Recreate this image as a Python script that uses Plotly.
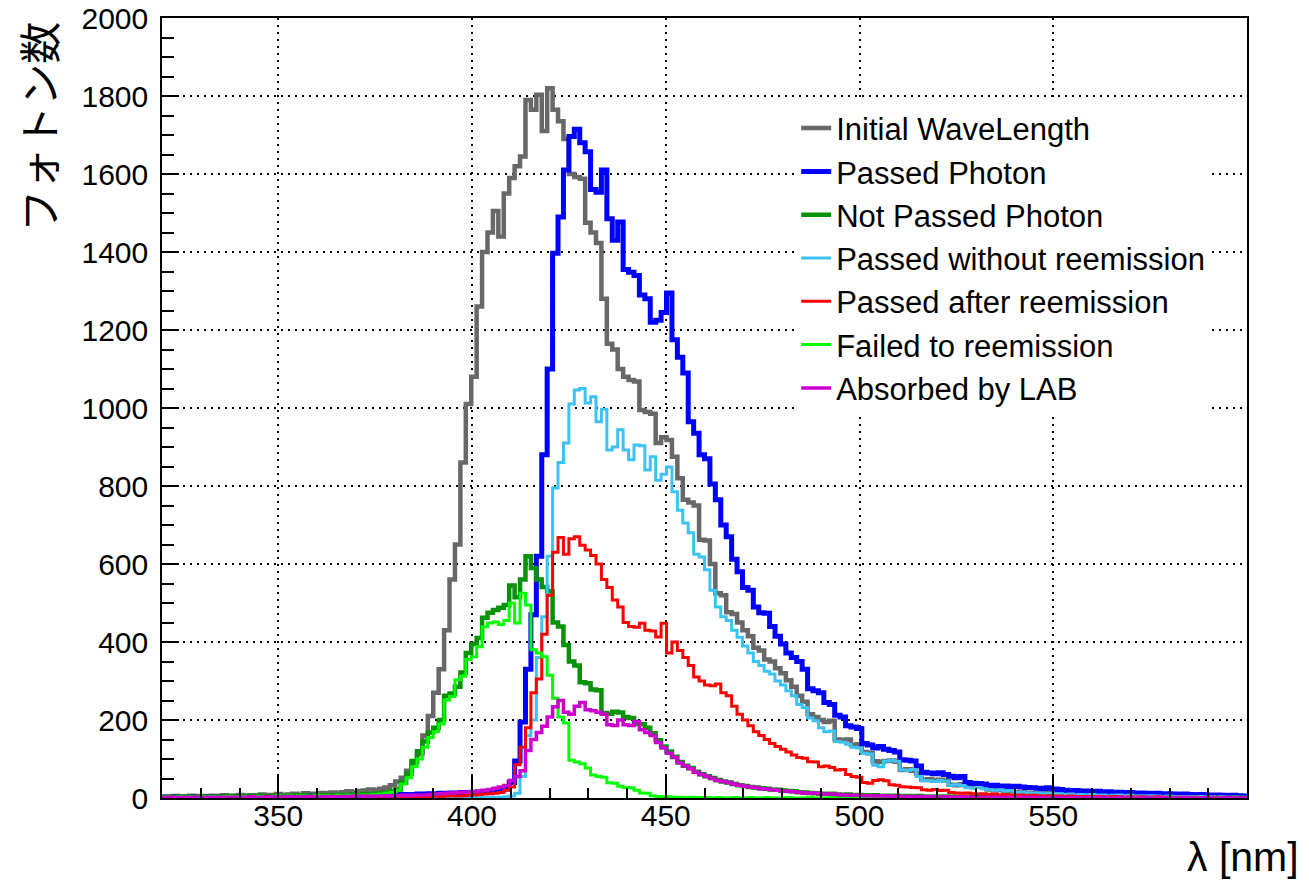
import numpy as np
import plotly.graph_objects as go

# Histogram binning (nm)
LAMBDA_MIN = 320.0
LAMBDA_MAX = 600.0
N_BINS = 200

x_tick_values = [350, 400, 450, 500, 550]

initial_wavelength = [
    4, 3, 5, 2, 4, 6, 3, 5, 4, 6,
    5, 7, 4, 6, 8, 5, 7, 6, 9, 7,
    8, 10, 7, 9, 11, 8, 12, 10, 11, 13,
    12, 14, 13, 15, 17, 14, 18, 19, 22, 20,
    24, 27, 33, 42, 52, 70, 90, 112, 160, 210,
    270, 330, 430, 560, 650, 860, 1010, 1080, 1260, 1400,
    1450, 1505, 1440, 1550, 1590, 1620, 1645, 1790, 1765, 1803,
    1710, 1820, 1765, 1735, 1690, 1600, 1592, 1588, 1475, 1450,
    1423, 1280, 1165, 1150, 1100, 1080, 1072, 1068, 995, 990,
    985, 910, 925, 918, 875, 820, 765, 758, 750, 662,
    660, 600, 525, 520, 476, 472, 450, 430, 415, 385,
    378, 355, 350, 333, 320, 302, 285, 262, 247, 215,
    208, 200, 195, 198, 150, 148, 150, 136, 138, 118,
    115, 94, 92, 95, 96, 93, 72, 74, 70, 62,
    46, 48, 45, 47, 44, 34, 33, 35, 32, 30,
    33, 28, 22, 20, 21, 18, 19, 14, 15, 13,
    12, 13, 11, 12, 10, 11, 9, 10, 8, 9,
    8, 9, 7, 8, 6, 7, 8, 6, 7, 5,
    6, 5, 7, 5, 4, 6, 5, 4, 5, 3,
    4, 5, 3, 4, 3, 4, 2, 3, 3, 2,
]

passed_photon = [
    2, 1, 3, 2, 2, 3, 1, 2, 3, 2,
    2, 3, 2, 3, 2, 3, 3, 2, 4, 3,
    3, 2, 4, 3, 4, 3, 4, 5, 3, 4,
    4, 5, 4, 5, 6, 5, 6, 5, 7, 6,
    7, 6, 8, 7, 9, 8, 9, 10, 9, 11,
    10, 12, 11, 13, 12, 14, 13, 15, 14, 16,
    16, 18, 20, 24, 40, 95, 195, 330, 470, 620,
    880, 1100, 1397, 1490, 1610, 1696, 1715, 1680, 1657, 1560,
    1553, 1610, 1485, 1430, 1477, 1355, 1348, 1340, 1290, 1280,
    1220, 1225, 1245, 1295, 1175, 1130, 1090, 965, 935, 880,
    870, 805, 765, 700, 670, 612, 580, 540, 533, 490,
    475, 474, 440, 415, 395, 372, 360, 350, 330, 280,
    275, 270, 245, 240, 212, 208, 185, 182, 178, 140,
    136, 128, 132, 125, 122, 118, 98, 97, 95, 82,
    66, 64, 62, 65, 60, 56, 52, 55, 40, 38,
    37, 36, 32, 33, 30, 31, 29, 30, 28, 27,
    26, 25, 24, 26, 23, 22, 20, 18, 19, 17,
    18, 16, 17, 15, 16, 14, 15, 13, 14, 12,
    13, 12, 11, 12, 10, 11, 10, 9, 10, 9,
    8, 9, 8, 7, 8, 7, 6, 7, 6, 5,
]

not_passed_photon = [
    2, 3, 2, 3, 4, 2, 3, 4, 3, 4,
    3, 4, 5, 3, 4, 5, 4, 6, 5, 4,
    5, 6, 4, 6, 5, 7, 6, 5, 7, 6,
    7, 6, 8, 7, 8, 9, 8, 10, 9, 11,
    12, 14, 18, 22, 40, 62, 95, 120, 145, 168,
    180, 200, 262, 268, 285, 322, 372, 395, 410, 462,
    475, 482, 488, 495, 545, 515, 560, 620, 590, 560,
    541, 530, 450, 440, 392, 350, 340, 297, 294, 278,
    276, 218, 216, 221, 219, 208, 205, 190, 189, 180,
    166, 148, 132, 119, 106, 92, 83, 77, 67, 61,
    56, 51, 46, 42, 40, 36, 33, 31, 28, 27,
    25, 24, 22, 21, 19, 18, 17, 15, 14, 13,
    12, 11, 10, 11, 9, 8, 9, 7, 8, 7,
    6, 7, 5, 6, 5, 6, 4, 5, 4, 5,
    4, 3, 4, 3, 4, 3, 2, 3, 3, 2,
    2, 3, 2, 2, 1, 2, 2, 1, 2, 1,
    1, 2, 1, 1, 2, 1, 1, 1, 0, 1,
    1, 1, 0, 1, 1, 0, 1, 1, 0, 1,
    0, 1, 1, 0, 1, 0, 1, 0, 0, 1,
    0, 1, 0, 0, 1, 0, 0, 1, 0, 0,
]

passed_without_reemission = [
    0, 1, 0, 0, 1, 0, 0, 1, 0, 0,
    1, 0, 0, 1, 0, 1, 0, 0, 1, 0,
    0, 1, 0, 1, 0, 0, 1, 0, 1, 0,
    1, 0, 1, 0, 1, 1, 0, 1, 0, 1,
    1, 1, 0, 1, 1, 1, 0, 1, 1, 1,
    1, 1, 1, 0, 1, 1, 1, 1, 1, 1,
    1, 2, 2, 3, 5, 12, 55, 160, 200, 360,
    465, 620, 795, 860, 910, 1010, 1046, 1050, 1013, 1029,
    965, 997, 892, 900, 944, 892, 867, 905, 903, 841,
    875, 815, 830, 849, 785, 738, 705, 680, 625, 618,
    585, 533, 490, 465, 455, 430, 412, 390, 372, 350,
    340, 325, 318, 300, 290, 275, 262, 240, 232, 205,
    198, 180, 170, 172, 145, 143, 138, 130, 128, 115,
    113, 84, 80, 95, 97, 94, 72, 71, 73, 55,
    45, 44, 42, 45, 43, 33, 34, 32, 26, 25,
    27, 24, 21, 20, 21, 18, 19, 14, 15, 13,
    12, 13, 11, 12, 10, 11, 9, 10, 8, 9,
    8, 9, 7, 8, 6, 7, 8, 6, 7, 5,
    6, 5, 6, 5, 4, 5, 4, 4, 4, 3,
    3, 4, 3, 3, 2, 3, 2, 2, 2, 2,
]

passed_after_reemission = [
    0, 1, 0, 0, 1, 0, 1, 0, 0, 1,
    0, 1, 1, 0, 1, 0, 1, 1, 0, 1,
    1, 0, 1, 1, 0, 1, 1, 0, 1, 1,
    1, 1, 2, 1, 1, 2, 1, 2, 2, 1,
    2, 2, 3, 2, 3, 3, 4, 3, 4, 4,
    5, 4, 5, 6, 5, 6, 7, 8, 9, 10,
    11, 12, 14, 20, 28, 85, 130, 180, 270, 305,
    420, 520, 630, 668, 625, 665, 670, 648, 636, 622,
    600, 560, 540, 508, 490, 450, 440, 438, 448, 430,
    428, 413, 448, 372, 400, 378, 360, 340, 310, 300,
    290, 288, 292, 270, 262, 235, 215, 200, 185, 170,
    160, 150, 140, 132, 125, 118, 110, 104, 102, 93,
    92, 80, 82, 78, 72, 73, 60, 55, 53, 40,
    38, 45, 47, 44, 34, 33, 29, 28, 27, 26,
    21, 20, 22, 19, 20, 14, 13, 12, 13, 11,
    10, 11, 9, 10, 8, 9, 8, 7, 8, 6,
    7, 6, 5, 6, 5, 5, 4, 5, 4, 4,
    4, 3, 4, 3, 3, 4, 3, 2, 3, 2,
    3, 2, 2, 3, 2, 2, 1, 2, 2, 1,
    2, 1, 1, 2, 1, 1, 1, 0, 1, 1,
]

failed_to_reemission = [
    2, 2, 1, 3, 3, 2, 2, 3, 2, 3,
    2, 3, 4, 2, 3, 4, 3, 4, 4, 3,
    4, 5, 3, 5, 4, 5, 5, 4, 6, 5,
    6, 5, 7, 6, 7, 7, 7, 8, 8, 9,
    10, 12, 15, 20, 36, 52, 80, 100, 130, 155,
    170, 190, 251, 260, 303, 312, 355, 362, 388, 439,
    449, 451, 445, 455, 500, 449, 525, 495, 380, 372,
    362, 315, 256, 208, 192, 97, 92, 88, 77, 59,
    55, 53, 39, 38, 30, 27, 26, 20, 13, 12,
    6, 4, 3, 3, 2, 2, 1, 2, 1, 1,
    1, 0, 1, 0, 0, 1, 0, 0, 1, 0,
    0, 1, 0, 0, 0, 1, 0, 0, 0, 1,
    0, 0, 0, 1, 0, 0, 0, 0, 1, 0,
    0, 0, 1, 0, 0, 0, 0, 1, 0, 0,
    0, 0, 0, 0, 1, 0, 0, 0, 0, 0,
    0, 1, 0, 0, 0, 0, 0, 0, 0, 0,
    0, 0, 0, 0, 0, 1, 0, 0, 0, 0,
    0, 0, 0, 0, 0, 0, 0, 0, 0, 0,
    0, 0, 0, 0, 0, 0, 0, 0, 0, 0,
    0, 0, 0, 0, 0, 0, 0, 0, 0, 0,
]

absorbed_by_lab = [
    1, 2, 1, 1, 2, 1, 2, 1, 2, 2,
    1, 2, 2, 1, 2, 2, 3, 2, 2, 3,
    2, 3, 2, 3, 3, 2, 3, 4, 3, 3,
    3, 4, 3, 4, 4, 5, 4, 5, 4, 5,
    5, 6, 5, 6, 7, 6, 7, 8, 8, 9,
    10, 11, 12, 13, 14, 15, 15, 16, 18, 20,
    22, 25, 28, 32, 45, 55, 70, 122, 150, 168,
    184, 208, 234, 250, 220, 215, 235, 245, 226, 224,
    220, 215, 188, 186, 200, 188, 186, 196, 175, 168,
    160, 142, 128, 115, 104, 90, 82, 75, 66, 60,
    55, 50, 45, 42, 40, 35, 33, 30, 28, 27,
    24, 23, 21, 20, 18, 17, 16, 15, 13, 13,
    12, 11, 10, 10, 9, 8, 8, 7, 7, 6,
    6, 5, 6, 5, 4, 5, 4, 4, 3, 4,
    3, 3, 3, 2, 3, 2, 2, 3, 2, 2,
    2, 1, 2, 2, 1, 2, 1, 1, 2, 1,
    1, 1, 1, 0, 1, 1, 0, 1, 1, 0,
    1, 0, 1, 1, 0, 0, 1, 0, 1, 0,
    0, 1, 0, 0, 1, 0, 0, 0, 1, 0,
    0, 0, 1, 0, 0, 0, 1, 0, 0, 0,
]

series_names = [
    "Initial WaveLength",
    "Passed Photon",
    "Not Passed Photon",
    "Passed without reemission",
    "Passed after reemission",
    "Failed to reemission",
    "Absorbed by LAB",
]
series_values = [
    initial_wavelength,
    passed_photon,
    not_passed_photon,
    passed_without_reemission,
    passed_after_reemission,
    failed_to_reemission,
    absorbed_by_lab,
]
series_colors = ["#686868", "#0000ff", "#089208", "#3cc3f3", "#ff0000", "#00ff00", "#cc00cc"]
series_widths = [4.5, 5, 4.5, 3, 3, 3, 3.5]

edges = np.linspace(LAMBDA_MIN, LAMBDA_MAX, N_BINS + 1)

fig = go.Figure()
for name, vals, color, width in zip(series_names, series_values, series_colors, series_widths):
    assert len(vals) == N_BINS, (name, len(vals))
    fig.add_trace(go.Scatter(
        x=edges,
        y=list(vals) + [vals[-1]],
        mode="lines",
        name=name,
        line=dict(color=color, width=width, shape="hv"),
    ))

FONT = "Liberation Sans, Arial, Helvetica, sans-serif"

axis_common = dict(
    showline=True, linecolor="black", linewidth=1.5, mirror=True,
    ticks="inside", tickcolor="black", tickwidth=1.5,
    showgrid=True, gridcolor="black", gridwidth=1.5, griddash="2px,5px",
    zeroline=False, automargin=False,
    tickfont=dict(family=FONT, size=30, color="black"),
)

fig.update_layout(
    width=1309, height=880,
    margin=dict(l=162, r=62, t=18, b=82),
    paper_bgcolor="white", plot_bgcolor="white",
    font=dict(family=FONT, color="black", size=30),
    showlegend=True,
    legend=dict(
        x=0.5845, y=0.893, xanchor="left", yanchor="top",
        bgcolor="white", borderwidth=0,
        font=dict(family=FONT, size=31, color="black"),
        tracegroupgap=0,
    ),
    xaxis=dict(
        range=[LAMBDA_MIN, LAMBDA_MAX],
        tickvals=x_tick_values,
        ticklen=22,
        ticklabelstandoff=-10,
        minor=dict(ticks="inside", ticklen=10, dtick=10, tick0=LAMBDA_MIN,
                   tickcolor="black", tickwidth=1.5, showgrid=False),
        **axis_common,
    ),
    yaxis=dict(
        range=[0, 2000],
        dtick=200, tick0=0,
        ticklen=17,
        ticklabelstandoff=6,
        minor=dict(ticks="inside", ticklen=12, dtick=50, tick0=0,
                   tickcolor="black", tickwidth=1.5, showgrid=False),
        **axis_common,
    ),
)

fig.add_annotation(
    text="フォトン数", xref="paper", yref="paper",
    x=-0.115, y=0.998, xanchor="center", yanchor="top",
    textangle=-90, showarrow=False,
    font=dict(family="Noto Sans CJK JP", size=42, color="black"),
)
fig.add_annotation(
    text="λ [nm]", xref="paper", yref="paper",
    x=1.0498, y=-0.0756, xanchor="right", yanchor="middle",
    showarrow=False,
    font=dict(family=FONT, size=41, color="black"),
)

fig.write_html("out.html")
